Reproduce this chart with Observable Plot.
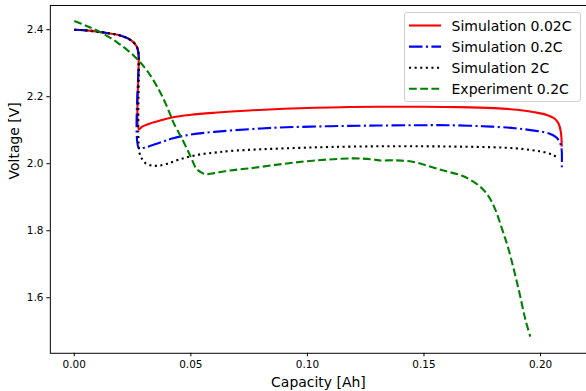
<!DOCTYPE html>
<html>
<head>
<meta charset="utf-8">
<script src="https://cdn.jsdelivr.net/npm/d3@7"></script>
<script src="https://cdn.jsdelivr.net/npm/@observablehq/plot@0.6"></script>
<style>
  body { margin: 0; background: #fff; }
  #wrap { position: relative; width: 586px; height: 391px; overflow: hidden; font-family: "DejaVu Sans", sans-serif; }
  #legend { position: absolute; left: 404px; top: 12px; width: 175px; height: 88px; border: 1px solid #cfcfcf; border-radius: 3px; background: rgba(255,255,255,0.8); }
</style>
</head>
<body>
<div id="wrap"></div>
<script>
const seriesNames = ["Simulation 0.02C", "Simulation 0.2C", "Simulation 2C", "Experiment 0.2C"];
const seriesColors = ["red", "blue", "black", "green"];
const seriesDash = [null, "13.5,3.4,2.1,3.4", "2.1,3.5", "7.8,3.4"];

const xTicks = [0, 0.05, 0.10, 0.15, 0.20];
const yTicks = [1.6, 1.8, 2.0, 2.2, 2.4];
const xLabel = "Capacity [Ah]";
const yLabel = "Voltage [V]";

// Simulation 0.02C
const sim002Cap = [0, 0.005, 0.0111, 0.016, 0.0197, 0.023, 0.0253, 0.0265, 0.0272, 0.0276, 0.0277,
  0.0290, 0.0325, 0.038, 0.0424, 0.050, 0.060, 0.075, 0.090, 0.110, 0.130, 0.150, 0.165, 0.180, 0.190,
  0.198, 0.203, 0.206, 0.2077, 0.2087, 0.2091];
const sim002V = [2.400, 2.398, 2.393, 2.388, 2.383, 2.374, 2.363, 2.353, 2.342, 2.325, 2.103,
  2.110, 2.120, 2.131, 2.139, 2.146, 2.152, 2.159, 2.164, 2.168, 2.170, 2.170, 2.169, 2.166, 2.161,
  2.153, 2.145, 2.135, 2.120, 2.095, 2.051];

// Simulation 0.2C
const sim02Cap = [0, 0.005, 0.0111, 0.016, 0.0197, 0.023, 0.0253, 0.0265, 0.0272, 0.0276, 0.0278,
  0.0300, 0.0325, 0.038, 0.0424, 0.050, 0.060, 0.075, 0.088, 0.110, 0.130, 0.150, 0.160, 0.175, 0.189,
  0.198, 0.2034, 0.2065, 0.2082, 0.2090, 0.2091];
const sim02V = [2.400, 2.398, 2.393, 2.388, 2.383, 2.374, 2.363, 2.353, 2.342, 2.325, 2.046,
  2.048, 2.053, 2.066, 2.076, 2.087, 2.095, 2.103, 2.108, 2.112, 2.114, 2.115, 2.115, 2.112, 2.106,
  2.098, 2.091, 2.080, 2.065, 2.045, 1.982];

// Simulation 2C
const sim2Cap = [0, 0.005, 0.0111, 0.016, 0.0197, 0.023, 0.0253, 0.0265, 0.0272, 0.0276, 0.0279,
  0.0290, 0.0305, 0.0330, 0.036, 0.040, 0.0453, 0.0524, 0.060, 0.0667, 0.080, 0.095, 0.110, 0.130,
  0.150, 0.165, 0.180, 0.1892, 0.196, 0.2006, 0.205, 0.2077];
const sim2V = [2.400, 2.398, 2.393, 2.388, 2.383, 2.374, 2.363, 2.353, 2.342, 2.325, 2.035,
  2.015, 2.002, 1.995, 1.994, 2.000, 2.013, 2.026, 2.033, 2.038, 2.043, 2.047, 2.050, 2.052,
  2.052, 2.051, 2.049, 2.046, 2.041, 2.036, 2.027, 2.016];

// Experiment 0.2C
const expCap = [0, 0.005, 0.0111, 0.0182, 0.0253, 0.0311, 0.0368, 0.041, 0.0424, 0.0467, 0.050,
  0.0524, 0.055, 0.0567, 0.060, 0.0667, 0.075, 0.088, 0.1023, 0.1194, 0.128, 0.1308, 0.138, 0.145,
  0.152, 0.1592, 0.1664, 0.1735, 0.1775, 0.1806, 0.1835, 0.1863, 0.1906, 0.1935, 0.1956];
const expV = [2.426, 2.412, 2.393, 2.363, 2.324, 2.279, 2.214, 2.150, 2.125, 2.068, 2.020,
  1.985, 1.972, 1.969, 1.972, 1.980, 1.986, 1.998, 2.009, 2.016, 2.013, 2.010, 2.010, 2.006,
  1.993, 1.978, 1.964, 1.935, 1.905, 1.863, 1.805, 1.744, 1.625, 1.535, 1.484];

const capArrays = [sim002Cap, sim02Cap, sim2Cap, expCap];
const voltArrays = [sim002V, sim02V, sim2V, expV];
const rows = seriesNames.flatMap((s, i) => capArrays[i].map((c, j) => ({series: s, cap: c, v: voltArrays[i][j]})));

const lineMarks = seriesNames.map((s, i) => Plot.line(rows.filter(r => r.series === s), {
  x: "cap", y: "v", stroke: seriesColors[i], strokeWidth: 2.1,
  strokeDasharray: seriesDash[i] || undefined, strokeLinecap: "butt", curve: "catmull-rom"
}));

const chart = Plot.plot({
  width: 588,
  height: 391,
  marginLeft: 50,
  marginRight: 0,
  marginTop: 5,
  marginBottom: 37,
  style: {fontFamily: "DejaVu Sans, sans-serif", background: "transparent", overflow: "visible"},
  x: {domain: [-0.01026, 0.2197]},
  y: {domain: [1.4343, 2.4723]},
  marks: [
    ...lineMarks,
    Plot.frame({stroke: "#000", strokeWidth: 1}),
    Plot.axisX(xTicks, {tickSize: 3.5, tickPadding: 3.5, tickFormat: d3.format(".2f"), fontSize: 10.5, label: null, color: "#000"}),
    Plot.axisY(yTicks, {tickSize: 3.5, tickPadding: 3.5, tickFormat: d3.format(".1f"), fontSize: 10.5, label: null, color: "#000"}),
    Plot.text([xLabel], {frameAnchor: "bottom", dy: 29, lineAnchor: "middle", fontSize: 14, fill: "#000"}),
    Plot.text([yLabel], {frameAnchor: "left", dx: -36, rotate: -90, lineAnchor: "middle", fontSize: 14, fill: "#000"})
  ]
});

const wrap = document.getElementById("wrap");
wrap.appendChild(chart);

// legend
const legend = document.createElement("div");
legend.id = "legend";
const ns = "http://www.w3.org/2000/svg";
const lsvg = document.createElementNS(ns, "svg");
lsvg.setAttribute("width", 175);
lsvg.setAttribute("height", 88);
lsvg.style.position = "absolute";
lsvg.style.left = "0px";
lsvg.style.top = "0px";
const rowY = [12.5, 33.6, 54.7, 75.8];
seriesNames.forEach((s, i) => {
  const ln = document.createElementNS(ns, "line");
  ln.setAttribute("x1", 4); ln.setAttribute("x2", 36);
  ln.setAttribute("y1", rowY[i]); ln.setAttribute("y2", rowY[i]);
  ln.setAttribute("stroke", seriesColors[i]);
  ln.setAttribute("stroke-width", 2.1);
  if (seriesDash[i]) ln.setAttribute("stroke-dasharray", seriesDash[i]);
  lsvg.appendChild(ln);
  const t = document.createElementNS(ns, "text");
  t.setAttribute("x", 46.5);
  t.setAttribute("y", rowY[i]);
  t.setAttribute("dy", "0.36em");
  t.setAttribute("font-size", 14);
  t.setAttribute("font-family", "DejaVu Sans, sans-serif");
  t.setAttribute("fill", "#000");
  t.textContent = s;
  lsvg.appendChild(t);
});
legend.appendChild(lsvg);
wrap.appendChild(legend);
</script>
</body>
</html>
